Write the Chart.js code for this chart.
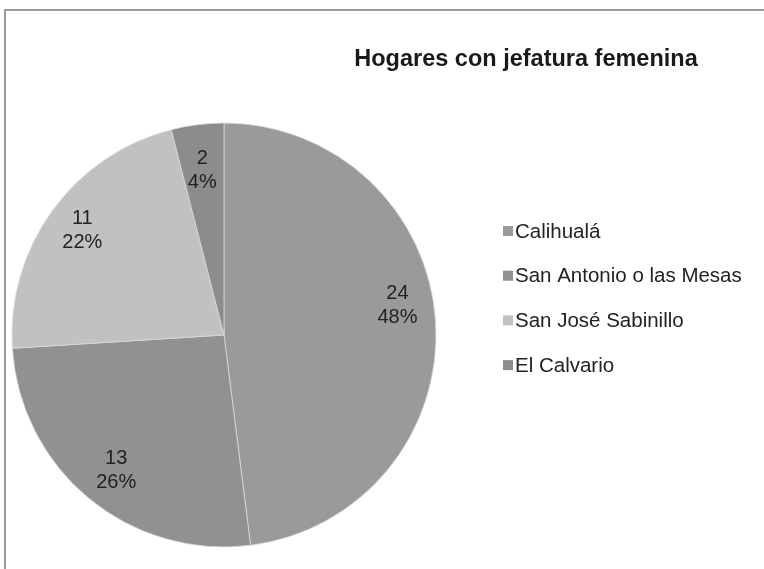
<!DOCTYPE html>
<html>
<head>
<meta charset="utf-8">
<title>Hogares con jefatura femenina</title>
<script src="https://cdn.jsdelivr.net/npm/chart.js@4"></script>
<style>
  html, body { margin: 0; padding: 0; background: #fff; }
  #wrap { position: relative; width: 764px; height: 569px; }
</style>
</head>
<body>
<div id="wrap"><canvas id="pieChart" width="764" height="569"></canvas></div>
<script>
const titleText = "Hogares con jefatura femenina";
const categories = ["Calihualá", "San Antonio o las Mesas", "San José Sabinillo", "El Calvario"];
const values = [24, 13, 11, 2];
const sliceColors = ["#9a9a9a", "#919191", "#c1c1c1", "#8c8c8c"];

const FONT = "'Liberation Sans', Arial, sans-serif";
const total = values.reduce((a, b) => a + b, 0);

// marco, titulo, leyenda y etiquetas de datos
const excelLook = {
  id: "excelLook",
  beforeDraw(chart) {
    const c = chart.ctx;
    c.save();
    c.fillStyle = "#fff";
    c.fillRect(0, 0, chart.width, chart.height);
    c.strokeStyle = "#9a9a9a";
    c.lineWidth = 2;
    c.beginPath();
    c.moveTo(5, chart.height);
    c.lineTo(5, 10);
    c.lineTo(chart.width, 10);
    c.stroke();
    c.restore();
  },
  afterDraw(chart, args, opts) {
    const c = chart.ctx;
    c.save();

    // titulo
    c.fillStyle = "#1a1a1a";
    c.font = "bold 23.5px " + FONT;
    c.textAlign = "center";
    c.textBaseline = "middle";
    c.fillText(titleText, 526, 60);

    // leyenda
    c.font = "20.5px " + FONT;
    c.textAlign = "left";
    categories.forEach((name, i) => {
      const y = 231 + i * 44.7;
      c.fillStyle = sliceColors[i];
      c.fillRect(503, y - 5, 10, 10);
      c.fillStyle = "#222";
      c.fillText(name, 515, y + 1);
    });

    // etiquetas: valor y porcentaje (ajuste tipo "mejor ajuste" de Excel)
    const meta = chart.getDatasetMeta(0);
    c.font = "20px " + FONT;
    c.textAlign = "center";
    meta.data.forEach((arc, i) => {
      const p = arc.getProps(["x", "y", "startAngle", "endAngle", "outerRadius"], true);
      const mid = (p.startAngle + p.endAngle) / 2;
      const r = p.outerRadius * 0.82;
      const nudge = opts.nudge[i] || [0, 0];
      const lx = p.x + Math.cos(mid) * r + nudge[0];
      const ly = p.y + Math.sin(mid) * r + nudge[1];
      const pct = Math.round(values[i] / total * 100) + "%";
      c.fillStyle = "#222";
      c.fillText(String(values[i]), lx, ly - 12);
      c.fillText(pct, lx, ly + 12);
    });
    c.restore();
  }
};

const ctx = document.getElementById("pieChart").getContext("2d");
const myChart = new Chart(ctx, {
  type: "pie",
  data: {
    labels: categories,
    datasets: [{
      data: values,
      backgroundColor: sliceColors,
      borderColor: "#dadada",
      borderWidth: 0.8,
      radius: 212,
    }],
  },
  options: {
    responsive: false,
    animation: false,
    layout: { padding: { left: 12, right: 328, top: 123, bottom: 22 } },
    plugins: {
      legend: { display: false },
      title: { display: false },
      tooltip: { enabled: false },
      excelLook: { nudge: [[0, -19], [3, 2], [-1, -2], [0, 8]] },
    },
  },
  plugins: [excelLook],
});
</script>
</body>
</html>
